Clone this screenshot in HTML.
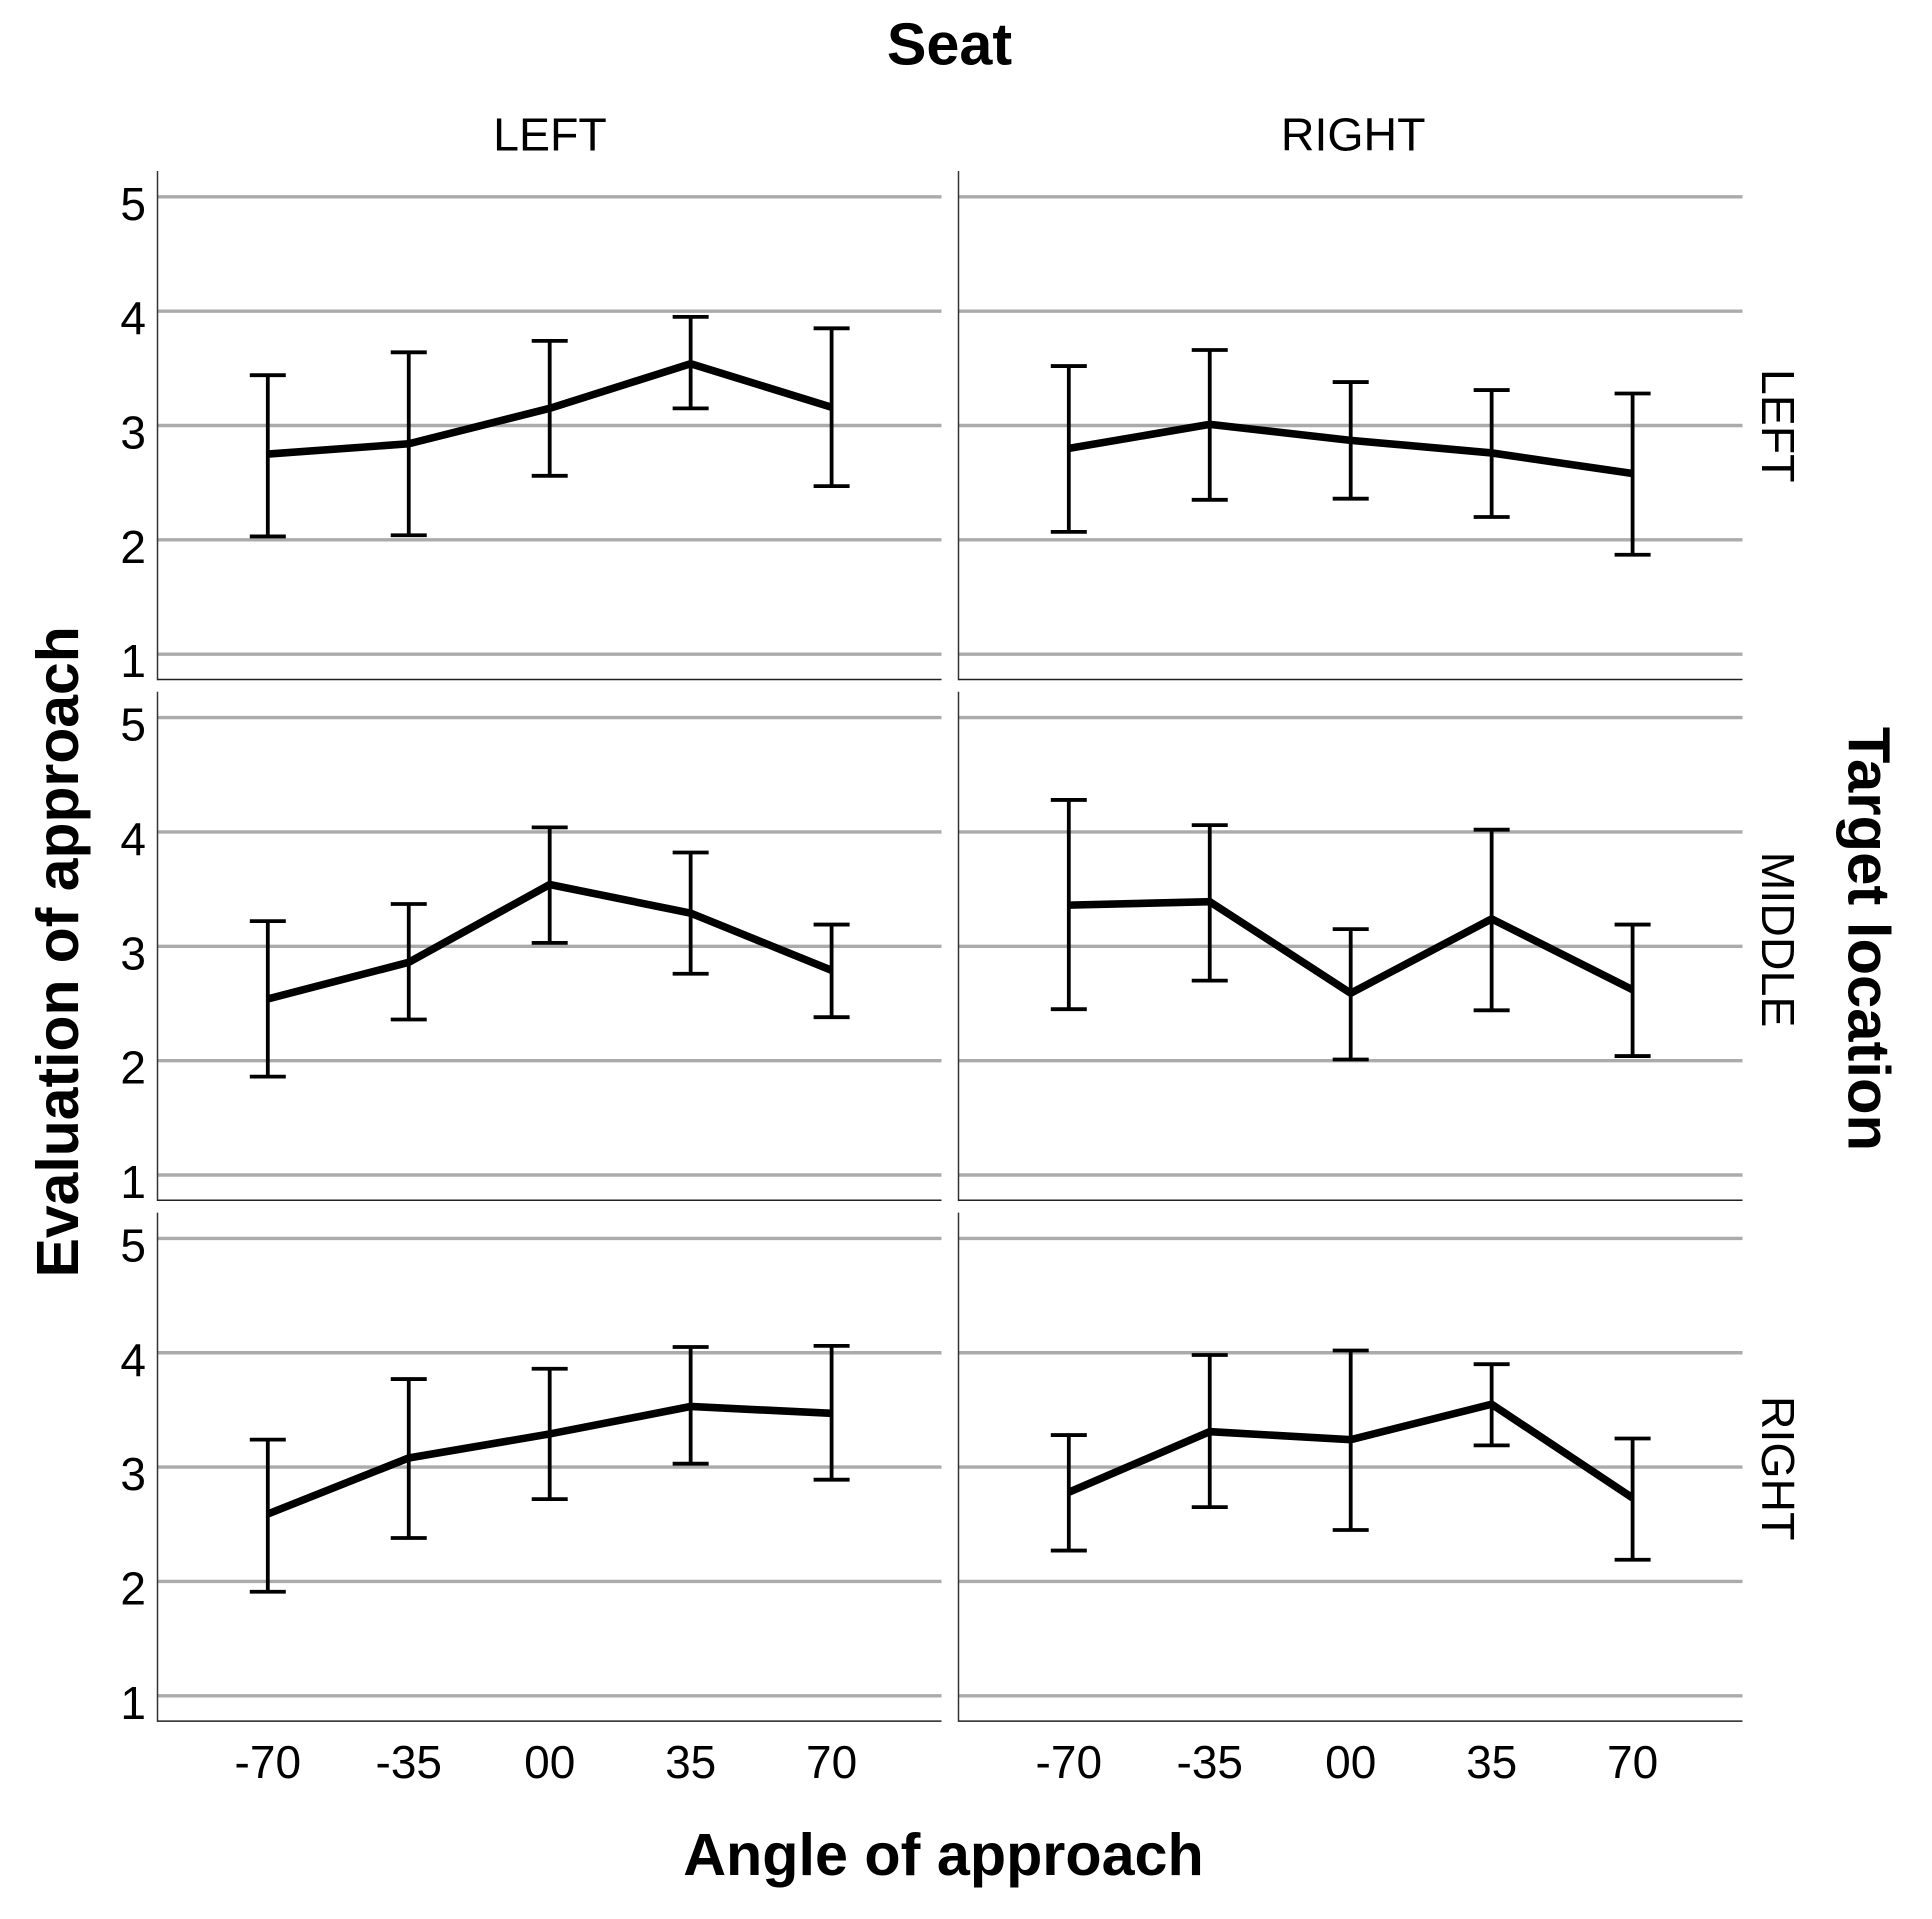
<!DOCTYPE html>
<html lang="en">
<head>
<meta charset="utf-8">
<title>Evaluation of approach by angle, seat and target location</title>
<style>
  html, body { margin: 0; padding: 0; background: #fff; }
  svg { display: block; font-family: "Liberation Sans", Arial, sans-serif; }
  .title { font-size: 59.3px; font-weight: bold; fill: #000; }
  .strip { font-size: 46.5px; fill: #000; }
</style>
</head>
<body>
<svg id="chart" xmlns="http://www.w3.org/2000/svg" width="1932" height="1919" viewBox="0 0 1932 1919">
  <rect x="0" y="0" width="1932" height="1919" fill="#fff"/>
  <g id="panels"></g>
  <text class="title" x="949.5" y="64.5" text-anchor="middle">Seat</text>
  <text class="title" x="943.5" y="1875" text-anchor="middle">Angle of approach</text>
  <text class="title" style="font-size:58.9px" transform="translate(78 951.8) rotate(-90)" text-anchor="middle">Evaluation of approach</text>
  <text class="title" style="font-size:59.8px" transform="translate(1848.5 939) rotate(90)" text-anchor="middle">Target location</text>
  <text class="strip" x="550" y="150.6" text-anchor="middle">LEFT</text>
  <text class="strip" x="1353.2" y="150.6" text-anchor="middle">RIGHT</text>
  <text class="strip" transform="translate(1762 425.7) rotate(90)" text-anchor="middle">LEFT</text>
  <text class="strip" transform="translate(1762 939.5) rotate(90)" text-anchor="middle">MIDDLE</text>
  <text class="strip" transform="translate(1762 1468.2) rotate(90)" text-anchor="middle">RIGHT</text>
</svg>
<script>
// Data
const categories = ['-70', '-35', '00', '35', '70'];
const yTicks = [1, 2, 3, 4, 5];

const meanLeftLeft = [2.75, 2.84, 3.15, 3.54, 3.16];
const upperLeftLeft = [3.44, 3.64, 3.74, 3.95, 3.85];
const lowerLeftLeft = [2.03, 2.04, 2.56, 3.15, 2.47];

const meanLeftRight = [2.80, 3.01, 2.87, 2.76, 2.58];
const upperLeftRight = [3.52, 3.66, 3.38, 3.31, 3.28];
const lowerLeftRight = [2.07, 2.35, 2.36, 2.20, 1.87];

const meanMiddleLeft = [2.54, 2.86, 3.54, 3.29, 2.79];
const upperMiddleLeft = [3.22, 3.37, 4.04, 3.82, 3.19];
const lowerMiddleLeft = [1.86, 2.36, 3.03, 2.76, 2.38];

const meanMiddleRight = [3.36, 3.39, 2.59, 3.24, 2.62];
const upperMiddleRight = [4.28, 4.06, 3.15, 4.02, 3.19];
const lowerMiddleRight = [2.45, 2.70, 2.01, 2.44, 2.04];

const meanRightLeft = [2.59, 3.08, 3.29, 3.53, 3.47];
const upperRightLeft = [3.24, 3.77, 3.86, 4.05, 4.06];
const lowerRightLeft = [1.91, 2.38, 2.72, 3.03, 2.89];

const meanRightRight = [2.78, 3.31, 3.24, 3.55, 2.73];
const upperRightRight = [3.28, 3.98, 4.02, 3.90, 3.25];
const lowerRightRight = [2.27, 2.65, 2.45, 3.19, 2.19];

const rowSeries = [
  [[meanLeftLeft, upperLeftLeft, lowerLeftLeft], [meanLeftRight, upperLeftRight, lowerLeftRight]],
  [[meanMiddleLeft, upperMiddleLeft, lowerMiddleLeft], [meanMiddleRight, upperMiddleRight, lowerMiddleRight]],
  [[meanRightLeft, upperRightLeft, lowerRightLeft], [meanRightRight, upperRightRight, lowerRightRight]]
];

// Layout and axis functions
const NS = 'http://www.w3.org/2000/svg';
const root = document.getElementById('panels');
const panelWidth = 784;
const panelHeight = 508.5;
const firstLeft = 157.5;
const columnStep = 801;
const firstTop = 171;
const rowStep = 520.8;
const unit = 114.35;

function panelLeft(col) { return firstLeft + col * columnStep; }
function panelTop(row) { return firstTop + row * rowStep; }
function xPos(col, i) { return panelLeft(col) + 110.3 + i * 140.95; }
function yPos(row, v) { return panelTop(row) + 25.8 + (5 - v) * unit; }

function add(parent, tag, attrs) {
  const el = document.createElementNS(NS, tag);
  for (const k in attrs) el.setAttribute(k, attrs[k]);
  parent.appendChild(el);
  return el;
}

rowSeries.forEach(function (columns, row) {
  columns.forEach(function (series, col) {
    const mean = series[0], upper = series[1], lower = series[2];
    const left = panelLeft(col), top = panelTop(row);
    const bottom = top + panelHeight, right = left + panelWidth;

    const g = add(root, 'g', {});
    
    

    yTicks.forEach(function (t) {
      const grid = add(g, 'line', { x1: left, x2: right, y1: yPos(row, t), y2: yPos(row, t), stroke: '#ababab', 'stroke-width': 3.4 });
      
      
      if (col === 0) {
        const label = add(g, 'text', { x: 146, y: yPos(row, t) + 23, 'text-anchor': 'end', 'font-size': 46, fill: '#000' });
        label.textContent = String(t);
        
        
      }
    });

    const yAxis = add(g, 'line', { x1: left, x2: left, y1: top, y2: bottom + 0.75, stroke: '#333', 'stroke-width': 1.5 });
    
    
    const xAxis = add(g, 'line', { x1: left, x2: right, y1: bottom, y2: bottom, stroke: '#222', 'stroke-width': 1.5 });
    
    

    categories.forEach(function (cat, i) {
      const x = xPos(col, i);
      const yu = yPos(row, upper[i]), yl = yPos(row, lower[i]);
      const bar = add(g, 'path', {
        d: 'M' + (x - 18) + ' ' + yu + 'H' + (x + 18) + 'M' + x + ' ' + yu + 'V' + yl + 'M' + (x - 18) + ' ' + yl + 'H' + (x + 18),
        fill: 'none', stroke: '#000', 'stroke-width': 3.8
      });
      
      

      if (row === rowSeries.length - 1) {
        const label = add(g, 'text', { x: x, y: 1778, 'text-anchor': 'middle', 'font-size': 46, fill: '#000' });
        label.textContent = cat;
        
        
      }
    });

    const pts = mean.map(function (v, i) { return xPos(col, i) + ',' + yPos(row, v); }).join(' ');
    const line = add(g, 'polyline', { points: pts, fill: 'none', stroke: '#000', 'stroke-width': 7.6, 'stroke-linejoin': 'miter' });
    
    
  });
});
</script>
</body>
</html>
